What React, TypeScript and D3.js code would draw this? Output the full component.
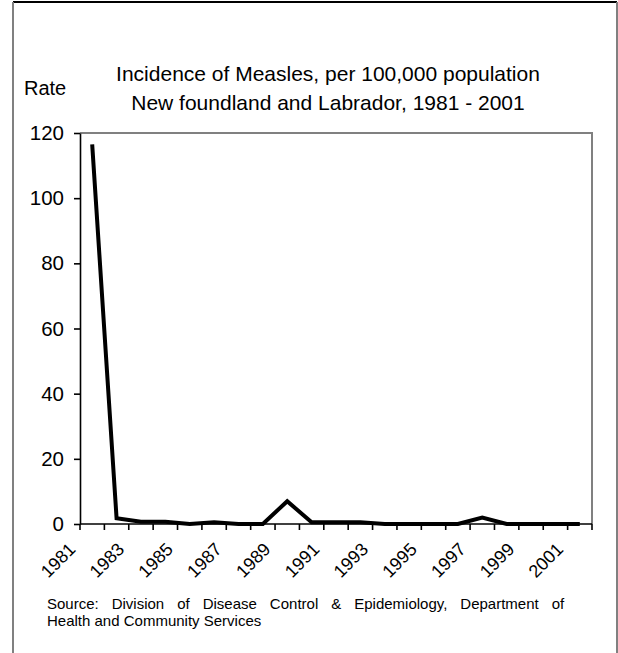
import React, { useEffect, useRef } from 'react';
import * as d3 from 'd3';

// Measles incidence, rate per 100,000
const years = [
  "1981", "1982", "1983", "1984", "1985", "1986", "1987", "1988", "1989", "1990",
  "1991", "1992", "1993", "1994", "1995", "1996", "1997", "1998", "1999", "2000", "2001",
];
const rates = [116.5, 1.8, 0.7, 0.7, 0, 0.5, 0, 0, 7, 0.5, 0.5, 0.5, 0, 0, 0, 0, 2, 0, 0, 0, 0];
const yTicks = [0, 20, 40, 60, 80, 100, 120];
const labelYears = ["1981", "1983", "1985", "1987", "1989", "1991", "1993", "1995", "1997", "1999", "2001"];

const titleLines = [
  "Incidence of Measles, per 100,000 population",
  "New foundland and Labrador, 1981 - 2001",
];
const sourceLines = [
  "Source:  Division of Disease Control & Epidemiology, Department of",
  "Health and Community Services",
];

const FONT = "'Liberation Sans', Arial, sans-serif";

export default function App() {
  const svgRef = useRef<SVGSVGElement>(null);

  useEffect(() => {
    if (!svgRef.current) return;
    document.body.style.margin = "0";
    const svg = d3.select(svgRef.current);
    svg.selectAll("*").remove();

    const W = 618, H = 653;
    const plot = { left: 80, right: 592, top: 133, bottom: 524 };

    svg.append("rect").attr("width", W).attr("height", H).attr("fill", "#fff");

    // outer frame
    svg.append("line").attr("x1", 13).attr("x2", 617).attr("y1", 2).attr("y2", 2)
      .attr("stroke", "#000").attr("stroke-width", 2);
    svg.append("line").attr("x1", 13).attr("x2", 13).attr("y1", 2).attr("y2", H)
      .attr("stroke", "#808080").attr("stroke-width", 2);
    svg.append("line").attr("x1", 617).attr("x2", 617).attr("y1", 2).attr("y2", H)
      .attr("stroke", "#808080").attr("stroke-width", 2);

    const x = d3.scaleBand().domain(years).range([plot.left, plot.right]).padding(0);
    const y = d3.scaleLinear().domain([0, 120]).range([plot.bottom, plot.top]);

    // plot area border (top and right, grey)
    svg.append("path")
      .attr("d", `M${plot.left},${plot.top}H${plot.right}V${plot.bottom}`)
      .attr("fill", "none").attr("stroke", "#808080").attr("stroke-width", 2);

    // y axis
    const yAxis = svg.append("g")
      .attr("transform", `translate(${plot.left},0)`)
      .call(d3.axisLeft(y).tickValues(yTicks).tickSize(6).tickPadding(10).tickSizeOuter(0));
    yAxis.select(".domain").attr("stroke", "#000").attr("stroke-width", 1.6);
    yAxis.selectAll(".tick line").attr("stroke", "#000").attr("stroke-width", 1.6);
    yAxis.selectAll(".tick text")
      .attr("font-family", FONT).attr("font-size", 20.5).attr("fill", "#000");

    // x axis: ticks sit between categories
    const bounds = years.map(d => x(d) as number).concat([plot.right]);
    const xAxis = svg.append("g");
    xAxis.append("line")
      .attr("x1", plot.left).attr("x2", plot.right)
      .attr("y1", plot.bottom).attr("y2", plot.bottom)
      .attr("stroke", "#000").attr("stroke-width", 1.6);
    xAxis.selectAll(".xt").data(bounds).join("line")
      .attr("x1", d => d).attr("x2", d => d)
      .attr("y1", plot.bottom).attr("y2", plot.bottom + 6)
      .attr("stroke", "#000").attr("stroke-width", 1.6);
    xAxis.selectAll(".xl").data(labelYears).join("text")
      .attr("transform", d => {
        const cx = (x(d) as number) + x.bandwidth() / 2;
        return `translate(${cx - 20},${plot.bottom + 22}) rotate(-45)`;
      })
      .attr("text-anchor", "end")
      .attr("dy", "0.35em")
      .attr("font-family", FONT).attr("font-size", 18)
      .text(d => d);

    // data line
    const line = d3.line<number>()
      .x((_, i) => (x(years[i]) as number) + x.bandwidth() / 2)
      .y(d => y(d));
    svg.append("path")
      .datum(rates)
      .attr("d", line)
      .attr("fill", "none").attr("stroke", "#000").attr("stroke-width", 4)
      .attr("stroke-linejoin", "miter");

    // titles
    svg.selectAll(".title").data(titleLines).join("text")
      .attr("x", 328).attr("y", (_, i) => 81 + i * 29)
      .attr("text-anchor", "middle")
      .attr("font-family", FONT).attr("font-size", 21)
      .text(d => d);
    svg.append("text")
      .attr("x", 24).attr("y", 95)
      .attr("font-family", FONT).attr("font-size", 20)
      .text("Rate");

    // source note, first line justified
    const src = svg.selectAll<SVGTextElement, string>(".src").data(sourceLines).join("text")
      .attr("x", 47).attr("y", (_, i) => 609 + i * 17)
      .attr("font-family", FONT).attr("font-size", 15)
      .text(d => d);
    const first = src.nodes()[0];
    const natural = first.getComputedTextLength();
    const gaps = (sourceLines[0].match(/ /g) || []).length;
    first.setAttribute("word-spacing", String((573 - 47 - natural) / gaps));
  }, []);

  return (
    <div style={{ width: 618, height: 653 }}>
      <svg ref={svgRef} width={618} height={653} style={{ display: "block" }} />
    </div>
  );
}
